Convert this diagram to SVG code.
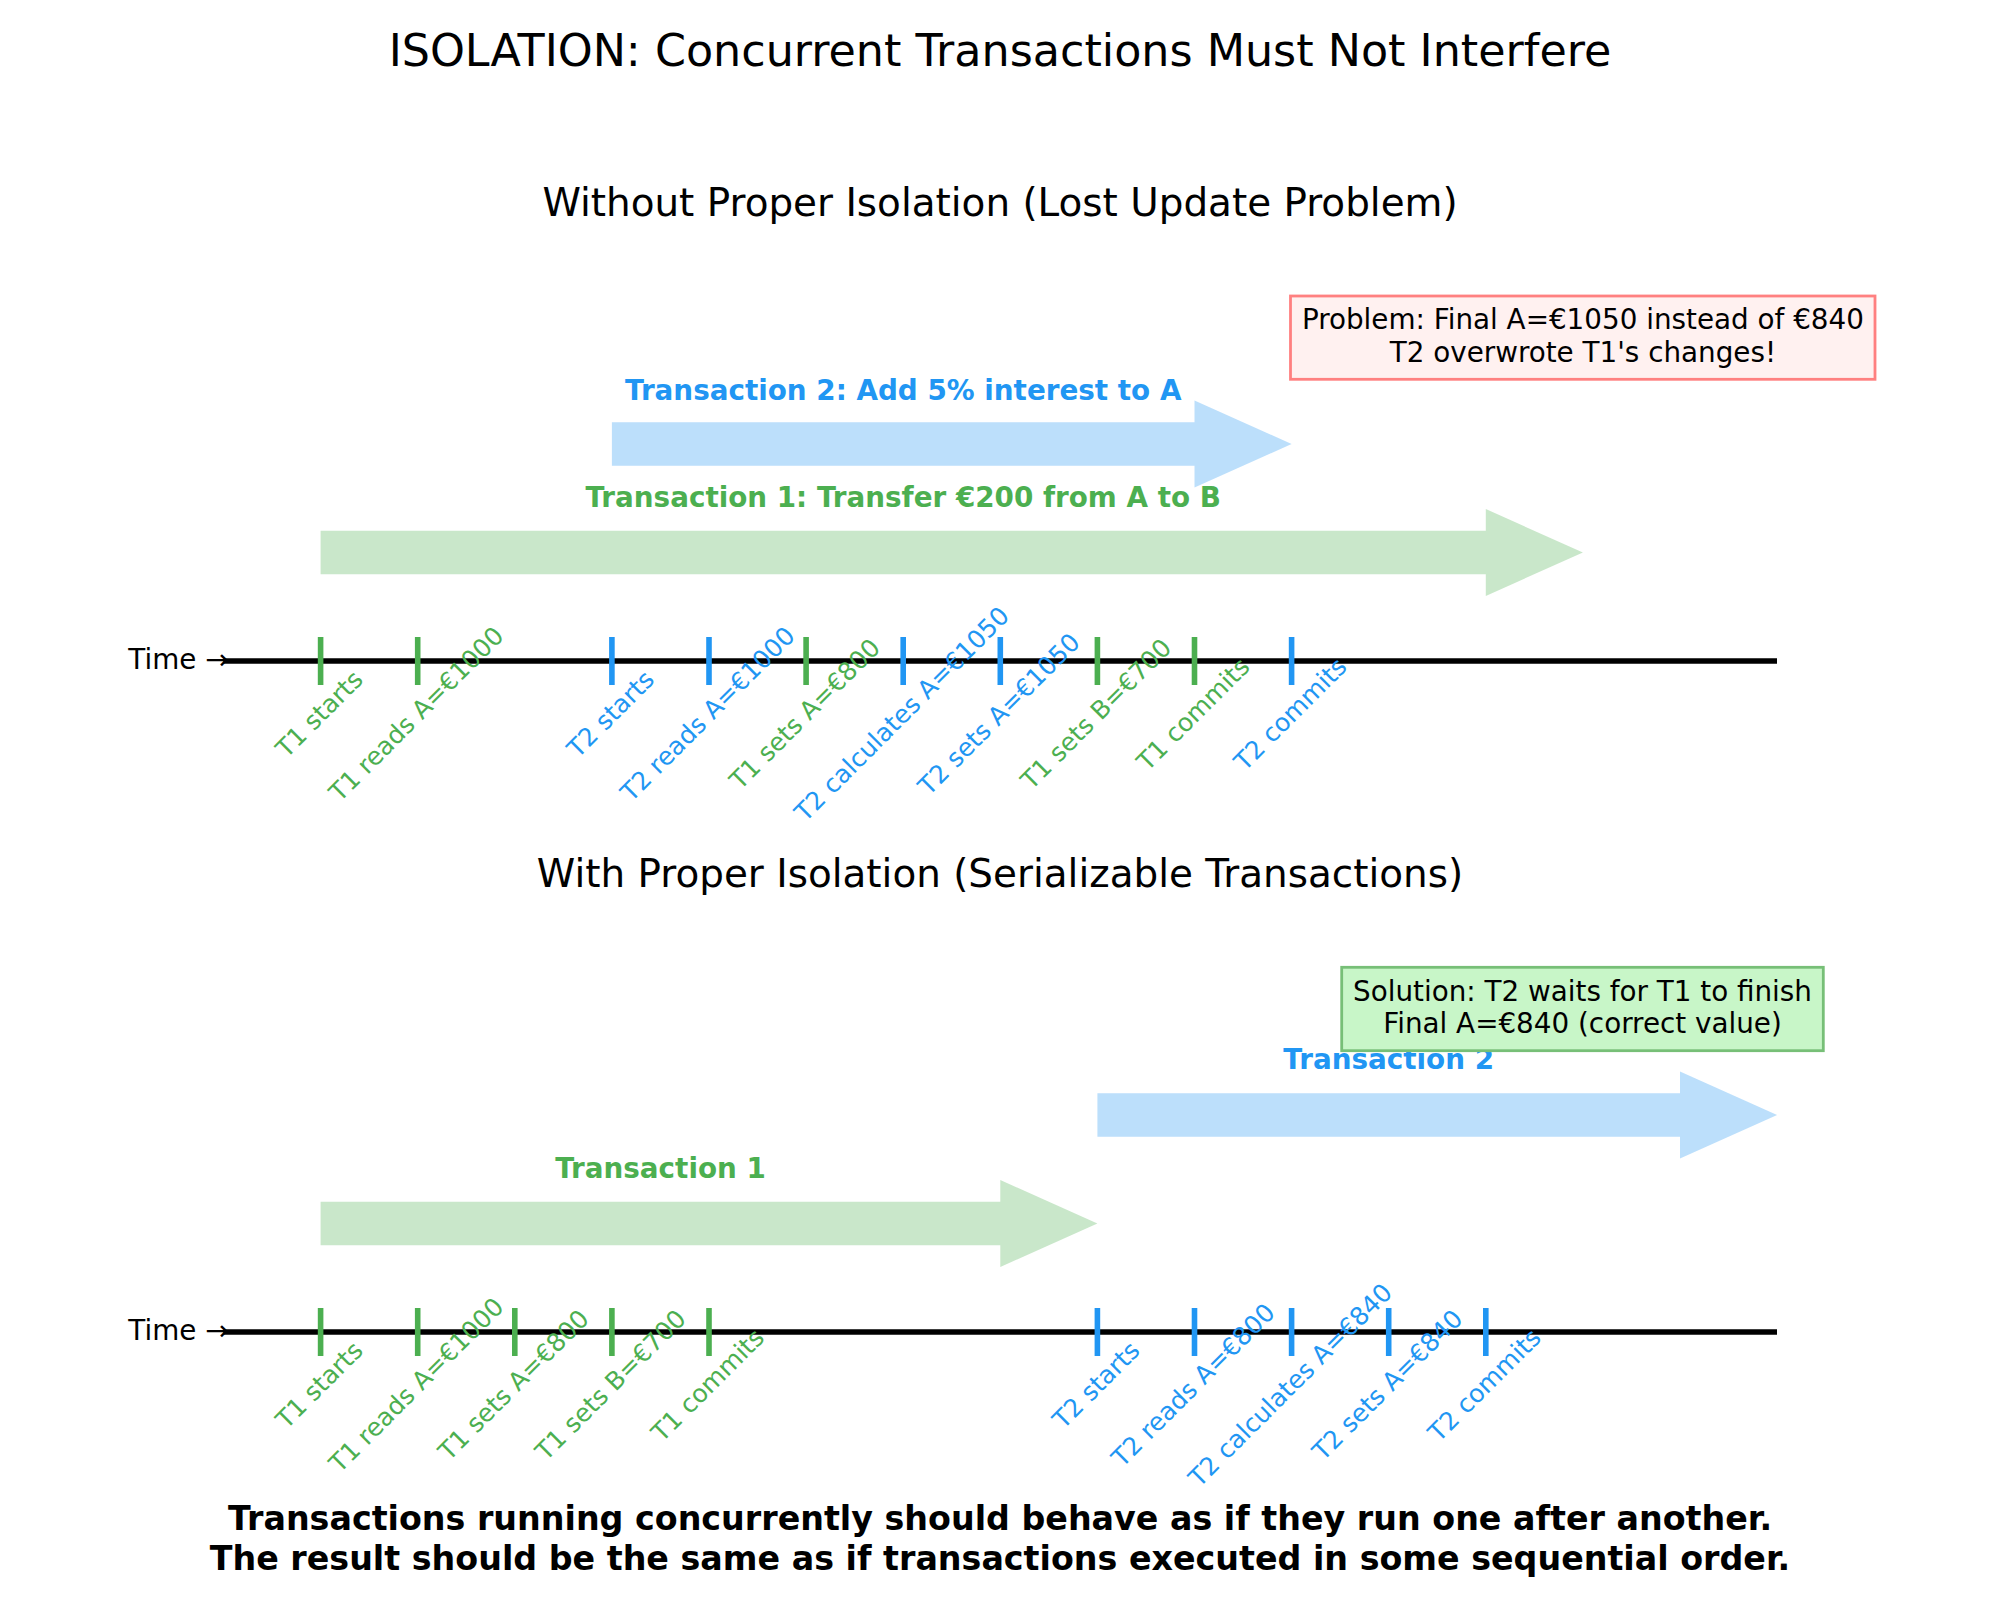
<svg xmlns="http://www.w3.org/2000/svg" width="2000" height="1600" viewBox="0 0 2000 1600">
<style>
text { font-family: "DejaVu Sans", "Liberation Sans", sans-serif; }
.title { font-size: 44.4px; fill: #000; }
.sub { font-size: 38.9px; fill: #000; }
.time { font-size: 27.8px; fill: #000; }
.ev { font-size: 25px; }
.g { fill: #4CAF50; }
.b { fill: #2196F3; }
.lbl { font-size: 27.8px; font-weight: bold; }
.box { font-size: 27.8px; fill: #000; }
.foot { font-size: 33.3px; font-weight: bold; fill: #000; }
.axis { stroke: #000; stroke-width: 5.6; }
.tg { stroke: #4CAF50; stroke-width: 5.6; }
.tb { stroke: #2196F3; stroke-width: 5.6; }
.ag { fill: #4CAF50; fill-opacity: 0.3; }
.ab { fill: #2196F3; fill-opacity: 0.3; }
</style>
<rect x="0" y="0" width="2000" height="1600" fill="#ffffff"/>

<text class="title" x="1000" y="66" text-anchor="middle">ISOLATION: Concurrent Transactions Must Not Interfere</text>

<!-- Top panel -->
<g id="panel-top">
<text class="sub" x="1000" y="216" text-anchor="middle">Without Proper Isolation (Lost Update Problem)</text>
<text class="time" x="128.3" y="669.3">Time →</text>
</g>

<g id="connectors">
<line class="axis" x1="223.5" y1="661" x2="1777" y2="661"/>
<line class="axis" x1="223.5" y1="1332" x2="1777" y2="1332"/>
<!-- top arrows -->
<polygon class="ab" points="611.9,422.3 1194.5,422.3 1194.5,400.6 1291.6,444 1194.5,487.4 1194.5,465.7 611.9,465.7"/>
<polygon class="ag" points="320.6,530.8 1485.8,530.8 1485.8,509.1 1582.9,552.5 1485.8,595.9 1485.8,574.2 320.6,574.2"/>
<!-- bottom arrows -->
<polygon class="ab" points="1097.4,1093.3 1680,1093.3 1680,1071.6 1777.1,1115 1680,1158.4 1680,1136.7 1097.4,1136.7"/>
<polygon class="ag" points="320.6,1201.8 1000.3,1201.8 1000.3,1180.1 1097.4,1223.5 1000.3,1266.9 1000.3,1245.2 320.6,1245.2"/>
</g>

<g id="arrow-labels">
<text class="lbl b" x="903.2" y="399.5" text-anchor="middle">Transaction 2: Add 5% interest to A</text>
<text class="lbl g" x="903.2" y="506.5" text-anchor="middle">Transaction 1: Transfer €200 from A to B</text>
<text class="lbl g" x="660.5" y="1177.5" text-anchor="middle">Transaction 1</text>
<text class="lbl b" x="1388.7" y="1069" text-anchor="middle">Transaction 2</text>
</g>

<!-- Top events -->
<g id="events-top">
<line class="tg" x1="320.6" y1="637" x2="320.6" y2="685"/>
<line class="tg" x1="417.7" y1="637" x2="417.7" y2="685"/>
<line class="tb" x1="611.9" y1="637" x2="611.9" y2="685"/>
<line class="tb" x1="709.0" y1="637" x2="709.0" y2="685"/>
<line class="tg" x1="806.1" y1="637" x2="806.1" y2="685"/>
<line class="tb" x1="903.2" y1="637" x2="903.2" y2="685"/>
<line class="tb" x1="1000.3" y1="637" x2="1000.3" y2="685"/>
<line class="tg" x1="1097.4" y1="637" x2="1097.4" y2="685"/>
<line class="tg" x1="1194.5" y1="637" x2="1194.5" y2="685"/>
<line class="tb" x1="1291.6" y1="637" x2="1291.6" y2="685"/>
<text class="ev g" text-anchor="middle" transform="translate(320.6,715.2) rotate(-45) translate(0,6.9)">T1 starts</text>
<text class="ev g" text-anchor="middle" transform="translate(417.7,715.2) rotate(-45) translate(0,6.9)">T1 reads A=€1000</text>
<text class="ev b" text-anchor="middle" transform="translate(611.9,715.2) rotate(-45) translate(0,6.9)">T2 starts</text>
<text class="ev b" text-anchor="middle" transform="translate(709.0,715.2) rotate(-45) translate(0,6.9)">T2 reads A=€1000</text>
<text class="ev g" text-anchor="middle" transform="translate(806.1,715.2) rotate(-45) translate(0,6.9)">T1 sets A=€800</text>
<text class="ev b" text-anchor="middle" transform="translate(903.2,715.2) rotate(-45) translate(0,6.9)">T2 calculates A=€1050</text>
<text class="ev b" text-anchor="middle" transform="translate(1000.3,715.2) rotate(-45) translate(0,6.9)">T2 sets A=€1050</text>
<text class="ev g" text-anchor="middle" transform="translate(1097.4,715.2) rotate(-45) translate(0,6.9)">T1 sets B=€700</text>
<text class="ev g" text-anchor="middle" transform="translate(1194.5,715.2) rotate(-45) translate(0,6.9)">T1 commits</text>
<text class="ev b" text-anchor="middle" transform="translate(1291.6,715.2) rotate(-45) translate(0,6.9)">T2 commits</text>
</g>

<g id="problem-box">
<rect x="1290.5" y="296" width="584.5" height="83.3" fill="#fff1f0" stroke="#ff8080" stroke-width="2.8"/>
<text class="box" x="1582.9" y="329.3" text-anchor="middle">Problem: Final A=€1050 instead of €840</text>
<text class="box" x="1582.9" y="361.7" text-anchor="middle">T2 overwrote T1's changes!</text>
</g>

<!-- Bottom panel -->
<g id="panel-bottom">
<text class="sub" x="1000" y="887" text-anchor="middle">With Proper Isolation (Serializable Transactions)</text>
<text class="time" x="128.3" y="1340.3">Time →</text>
</g>

<g id="events-bottom">
<line class="tg" x1="320.6" y1="1308" x2="320.6" y2="1356"/>
<line class="tg" x1="417.7" y1="1308" x2="417.7" y2="1356"/>
<line class="tg" x1="514.8" y1="1308" x2="514.8" y2="1356"/>
<line class="tg" x1="611.9" y1="1308" x2="611.9" y2="1356"/>
<line class="tg" x1="709.0" y1="1308" x2="709.0" y2="1356"/>
<line class="tb" x1="1097.4" y1="1308" x2="1097.4" y2="1356"/>
<line class="tb" x1="1194.5" y1="1308" x2="1194.5" y2="1356"/>
<line class="tb" x1="1291.6" y1="1308" x2="1291.6" y2="1356"/>
<line class="tb" x1="1388.7" y1="1308" x2="1388.7" y2="1356"/>
<line class="tb" x1="1485.8" y1="1308" x2="1485.8" y2="1356"/>
<text class="ev g" text-anchor="middle" transform="translate(320.6,1386.2) rotate(-45) translate(0,6.9)">T1 starts</text>
<text class="ev g" text-anchor="middle" transform="translate(417.7,1386.2) rotate(-45) translate(0,6.9)">T1 reads A=€1000</text>
<text class="ev g" text-anchor="middle" transform="translate(514.8,1386.2) rotate(-45) translate(0,6.9)">T1 sets A=€800</text>
<text class="ev g" text-anchor="middle" transform="translate(611.9,1386.2) rotate(-45) translate(0,6.9)">T1 sets B=€700</text>
<text class="ev g" text-anchor="middle" transform="translate(709.0,1386.2) rotate(-45) translate(0,6.9)">T1 commits</text>
<text class="ev b" text-anchor="middle" transform="translate(1097.4,1386.2) rotate(-45) translate(0,6.9)">T2 starts</text>
<text class="ev b" text-anchor="middle" transform="translate(1194.5,1386.2) rotate(-45) translate(0,6.9)">T2 reads A=€800</text>
<text class="ev b" text-anchor="middle" transform="translate(1291.6,1386.2) rotate(-45) translate(0,6.9)">T2 calculates A=€840</text>
<text class="ev b" text-anchor="middle" transform="translate(1388.7,1386.2) rotate(-45) translate(0,6.9)">T2 sets A=€840</text>
<text class="ev b" text-anchor="middle" transform="translate(1485.8,1386.2) rotate(-45) translate(0,6.9)">T2 commits</text>
</g>

<g id="solution-box">
<rect x="1341.7" y="967.3" width="481.6" height="83.4" fill="#c8f6c8" stroke="#77bf77" stroke-width="2.8"/>
<text class="box" x="1582.5" y="1000.7" text-anchor="middle">Solution: T2 waits for T1 to finish</text>
<text class="box" x="1582.5" y="1032.6" text-anchor="middle">Final A=€840 (correct value)</text>
</g>

<g id="footer">
<text class="foot" x="1000" y="1530" text-anchor="middle">Transactions running concurrently should behave as if they run one after another.</text>
<text class="foot" x="1000" y="1570" text-anchor="middle">The result should be the same as if transactions executed in some sequential order.</text>
</g>
</svg>
